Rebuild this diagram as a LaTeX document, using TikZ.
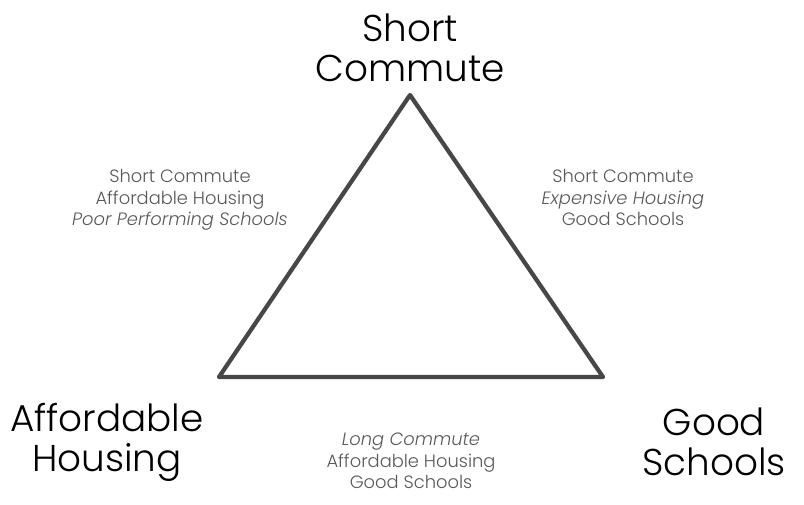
\documentclass[tikz,border=0pt]{standalone}
\usepackage{fontspec}
\setmainfont{Poppins}[UprightFont=* Light, ItalicFont=* Light Italic]
\begin{document}
\begin{tikzpicture}[x=0.75pt,y=-0.75pt,
  big/.style={font=\fontsize{28pt}{30pt}\selectfont, text=black, align=center, inner sep=0pt},
  small/.style={font=\fontsize{13.4pt}{16.2pt}\selectfont, text=black!65, align=center, inner sep=0pt},
  edge/.style={draw=black!72, line width=3.2pt, line join=round}]
\useasboundingbox (0,0) rectangle (804,504);
\coordinate (T) at (410,95);
\coordinate (L) at (219,377);
\coordinate (R) at (603,377);
\draw[edge] (T) -- (L) -- (R) -- cycle;
\node[big] (sc) at (410,48) {Short\\Commute};
\node[big] (ah) at (107,442) {Affordable\\Housing};
\node[big] (gs) at (714,442) {Good\\Schools};
\node[small] (l1) at (180,200) {Short Commute\\Affordable Housing\\\textit{Poor Performing Schools}};
\node[small] (r1) at (623,197.5) {Short Commute\\\textit{Expensive Housing}\\Good Schools};
\node[small] (b1) at (411,461) {\textit{Long Commute}\\Affordable Housing\\Good Schools};
\end{tikzpicture}
\end{document}
